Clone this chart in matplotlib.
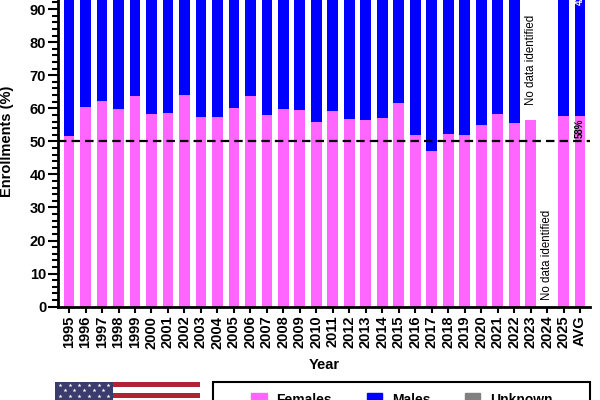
import numpy as np
import matplotlib.pyplot as plt
from matplotlib.patches import Rectangle, Patch

plt.rcParams['font.family'] = ['Liberation Sans', 'DejaVu Sans']
plt.rcParams['font.weight'] = 'bold'

years = [str(y) for y in range(1995, 2026)] + ['AVG']
females = [51.6, 60.5, 62.3, 59.8, 63.6, 58.2, 58.5, 63.9, 57.4, 57.3,
           60.2, 63.6, 58.0, 59.8, 59.6, 55.9, 59.2, 56.9, 56.6, 57.1,
           61.7, 51.8, 47.1, 52.3, 52.0, 54.9, 58.4, 55.6, 56.4, np.nan,
           57.7, 57.8]
males = [48.4, 39.5, 37.7, 40.2, 36.4, 41.8, 41.5, 36.1, 42.6, 42.7,
         39.8, 36.4, 42.0, 40.2, 40.4, 44.1, 40.8, 43.1, 43.4, 42.9,
         38.3, 48.2, 52.9, 47.7, 48.0, 45.1, 41.6, 44.4, np.nan, np.nan,
         42.3, 42.2]
unknown = [0.0] * len(years)

pink = '#FF66FF'
blue = '#0000FF'
grey = '#808080'

fig = plt.figure(figsize=(6, 4), dpi=100)
ax = fig.add_axes([58 / 600, 1 - 306.7 / 400, 532 / 600, 330.7 / 400])

x = np.arange(len(years))
f = np.nan_to_num(females)
m = np.nan_to_num(males)
w = 0.65
ax.bar(x, f, w, color=pink, edgecolor='none', zorder=2)
ax.bar(x, m, w, bottom=f, color=blue, edgecolor='none', zorder=2)
ax.bar(x, unknown, w, bottom=f + m, color=grey, edgecolor='none', zorder=2)
ax.axhline(50, color='black', lw=1.6, ls=(0, (3.8, 2.3)), zorder=3)

ax.set_xlim(-0.67, len(years) - 1 + 0.6)
ax.set_ylim(0, 100)
ax.set_yticks(np.arange(0, 91, 10))
ax.set_yticks(np.arange(0, 101, 2), minor=True)
ax.set_xticks(x)
ax.set_xticklabels(years, rotation=90, fontsize=10.5, fontweight='bold')
ax.tick_params(axis='y', which='major', length=7, width=1.5, labelsize=10.5, pad=1.5)
ax.tick_params(axis='y', which='minor', length=4.3, width=1.5)
ax.tick_params(axis='x', length=4.5, width=1.5, pad=2)
for lab in ax.get_yticklabels():
    lab.set_fontweight('bold')
for s in ['top', 'right']:
    ax.spines[s].set_visible(False)
for s in ['left', 'bottom']:
    ax.spines[s].set_linewidth(2)

ax.set_ylabel('Enrollments (%)', fontsize=10.5, fontweight='bold', labelpad=4)
ax.set_xlabel('Year', fontsize=10.5, fontweight='bold', labelpad=7)
ax.yaxis.set_label_coords(-0.083, 0.5)

i23 = years.index('2023')
i24 = years.index('2024')
iav = years.index('AVG')
ax.text(i23, 61, 'No data identified', rotation=90, ha='center', va='bottom',
        fontsize=8.3, fontweight='normal', zorder=4)
ax.text(i24, 2, 'No data identified', rotation=90, ha='center', va='bottom',
        fontsize=8.3, fontweight='normal', zorder=4)
ax.text(iav, females[iav] - 0.8, '%d%%' % round(females[iav]), rotation=90,
        ha='center', va='top', fontsize=7, fontweight='bold', zorder=4)
ax.text(iav, 91.2, '%d%%' % round(100 - females[iav]), rotation=90,
        ha='center', va='bottom', fontsize=7, fontweight='bold',
        color='white', zorder=4)

# legend box at the bottom
fig.patches.append(Rectangle((213 / 600, -0.2), 377 / 600, 0.2 + 1 - 382 / 400,
                             transform=fig.transFigure, fill=False,
                             edgecolor='black', lw=1.5))
handles = [Patch(color=pink), Patch(color=blue), Patch(color=grey)]
fig.legend(handles, ['Females', 'Males', 'Unknown'], ncol=3, frameon=False,
           loc='upper center', bbox_to_anchor=(402 / 600, 1 - 383 / 400),
           prop={'size': 10, 'weight': 'bold'}, handlelength=1.1,
           handleheight=1.1, handletextpad=0.7, columnspacing=2.5,
           borderpad=0.2)

# flag
stripe = 5.5
fw, fh = 145, 13 * stripe
fax = fig.add_axes([55 / 600, 1 - (381.7 + fh) / 400, fw / 600, fh / 400])
fax.set_xlim(0, fw)
fax.set_ylim(0, fh)
fax.axis('off')
for k in range(13):
    c = '#B22234' if k % 2 == 0 else 'white'
    fax.add_patch(Rectangle((0, fh - (k + 1) * stripe), fw, stripe, color=c, lw=0))
cw, ch = 58, 7 * stripe
fax.add_patch(Rectangle((0, fh - ch), cw, ch, color='#3C3B6E', lw=0))
sx, sy = [], []
for r in range(9):
    yy = fh - 3 - r * 5.7
    if yy < fh - ch:
        break
    n = 6 if r % 2 == 0 else 5
    off = 0 if r % 2 == 0 else cw / 12
    for j in range(n):
        sx.append(cw / 12 + off + j * cw / 6)
        sy.append(yy)
fax.scatter(sx, sy, marker='*', s=9, color='white', lw=0)

fig.savefig('out.png', dpi=100)
